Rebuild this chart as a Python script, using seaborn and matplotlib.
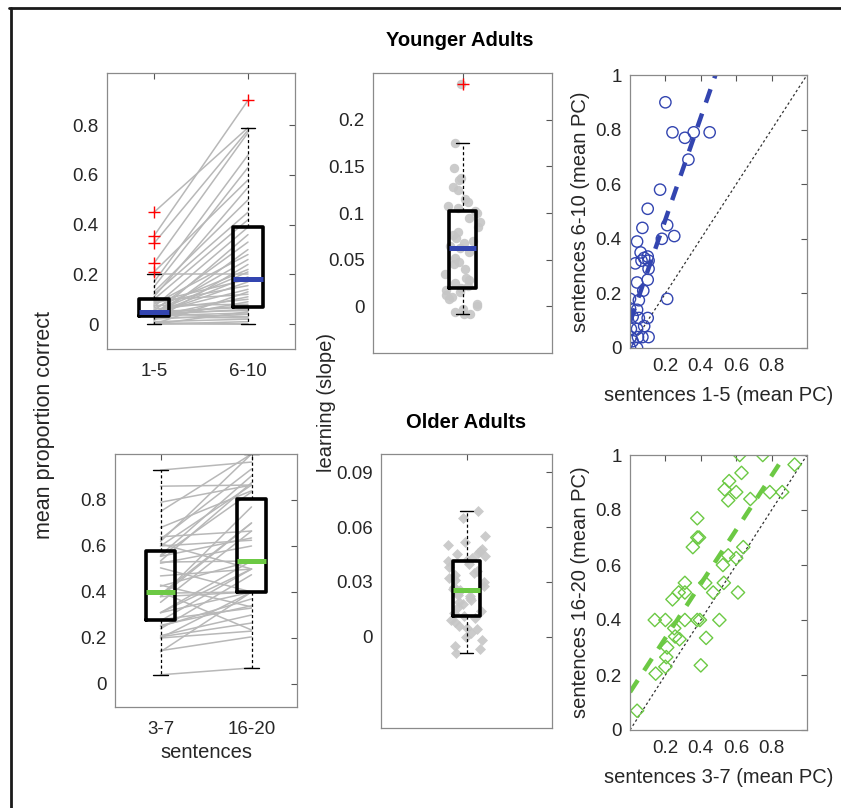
import numpy as np
import pandas as pd
import matplotlib
matplotlib.use("Agg")
import matplotlib.pyplot as plt
from matplotlib.lines import Line2D
from matplotlib.ticker import FuncFormatter
import seaborn as sns

# ---------------- data ----------------
# Younger adults, mean proportion correct, sentences 1-5 vs 6-10 (paired, left panel)
young_early = [0.45, 0.355, 0.325, 0.245, 0.21, 0.20, 0.17, 0.15, 0.13, 0.12, 0.11, 0.10,
               0.0, 0.0, 0.0, 0.0, 0.005, 0.01, 0.015, 0.02, 0.022, 0.025, 0.028, 0.032,
               0.034, 0.036, 0.038, 0.04, 0.041, 0.042, 0.043, 0.044, 0.045, 0.046, 0.048,
               0.05, 0.055, 0.06, 0.065, 0.07, 0.075, 0.08, 0.085, 0.09, 0.095]
young_late = [0.79, 0.90, 0.78, 0.77, 0.58, 0.20, 0.68, 0.63, 0.50, 0.45, 0.55, 0.42,
              0.0, 0.01, 0.05, 0.13, 0.0, 0.02, 0.24, 0.04, 0.09, 0.30, 0.025, 0.11,
              0.045, 0.36, 0.06, 0.17, 0.03, 0.19, 0.075, 0.26, 0.055, 0.14, 0.21,
              0.068, 0.33, 0.10, 0.22, 0.39, 0.08, 0.28, 0.155, 0.18, 0.12]
# Younger adults learning slopes
young_slope = [-0.008, -0.008, -0.006, -0.003, 0.0, 0.003, 0.008, 0.01, 0.012, 0.015, 0.018,
               0.02, 0.022, 0.025, 0.028, 0.03, 0.035, 0.04, 0.045, 0.048, 0.052, 0.058,
               0.063, 0.065, 0.068, 0.07, 0.073, 0.076, 0.08, 0.085, 0.09, 0.095, 0.1,
               0.102, 0.105, 0.108, 0.112, 0.115, 0.125, 0.128, 0.135, 0.138, 0.148, 0.175, 0.238]
# Younger adults scatter: sentences 1-5 (x) vs 6-10 (y)
young_x = [0.20, 0.24, 0.31, 0.36, 0.45, 0.33, 0.17, 0.10, 0.07, 0.21, 0.25, 0.18, 0.04, 0.06,
           0.03, 0.065, 0.10, 0.105, 0.105, 0.08, 0.04, 0.10, 0.075, 0.05, 0.0, 0.0, 0.04,
           0.015, 0.05, 0.10, 0.21, 0.005, 0.04, 0.08, 0.005, 0.045, 0.07, 0.105, 0.0, 0.04, 0.015]
young_y = [0.90, 0.79, 0.77, 0.79, 0.79, 0.69, 0.58, 0.51, 0.44, 0.45, 0.41, 0.40, 0.39, 0.35,
           0.31, 0.32, 0.335, 0.32, 0.29, 0.33, 0.24, 0.25, 0.21, 0.175, 0.18, 0.145, 0.14,
           0.115, 0.11, 0.11, 0.18, 0.07, 0.07, 0.08, 0.04, 0.04, 0.04, 0.04, 0.0, 0.0, 0.025]
# Older adults: sentences 3-7 (x) vs 16-20 (y)
old_x = [0.62, 0.75, 0.93, 0.63, 0.56, 0.535, 0.60, 0.79, 0.86, 0.555, 0.68, 0.38, 0.38, 0.39,
         0.355, 0.64, 0.555, 0.60, 0.525, 0.53, 0.425, 0.31, 0.275, 0.31, 0.24, 0.47, 0.61,
         0.14, 0.20, 0.31, 0.38, 0.505, 0.25, 0.255, 0.28, 0.43, 0.21, 0.205, 0.145, 0.20,
         0.40, 0.04, 0.395]
old_y = [1.0, 1.0, 0.965, 0.935, 0.905, 0.875, 0.865, 0.865, 0.865, 0.835, 0.84, 0.77, 0.70,
         0.70, 0.665, 0.665, 0.635, 0.625, 0.60, 0.535, 0.535, 0.535, 0.50, 0.50, 0.475, 0.50,
         0.50, 0.40, 0.40, 0.40, 0.40, 0.40, 0.37, 0.34, 0.33, 0.335, 0.30, 0.265, 0.205, 0.23,
         0.235, 0.07, 0.40]
# Older adults learning slopes
old_slope = [-0.009, -0.007, -0.005, -0.002, 0.0, 0.002, 0.004, 0.005, 0.006, 0.008, 0.009,
             0.01, 0.0115, 0.013, 0.014, 0.016, 0.018, 0.019, 0.02, 0.021, 0.022, 0.023, 0.024,
             0.025, 0.0256, 0.026, 0.027, 0.028, 0.03, 0.031, 0.032, 0.034, 0.035, 0.036, 0.038,
             0.04, 0.0415, 0.042, 0.043, 0.044, 0.045, 0.046, 0.047, 0.048, 0.05, 0.052, 0.055,
             0.065, 0.069]

young_blocks = ["1-5", "6-10"]
old_blocks = ["3-7", "16-20"]

BLUE = "#3345b0"
GREEN = "#6cc944"
GRAYLINE = "#b8b8b8"
DOT = "#c6c6c6"
TXT = "#262626"

# ---------------- figure ----------------
sns.set_theme(style="white")
plt.rcParams["font.family"] = ["Liberation Sans", "DejaVu Sans"]
plt.rcParams["text.color"] = TXT
plt.rcParams["axes.labelcolor"] = TXT

W, H = 841, 808
fig = plt.figure(figsize=(W / 100, H / 100), dpi=100)


def rect(x0, y0, x1, y1):
    return [x0 / W, 1 - y1 / H, (x1 - x0) / W, (y1 - y0) / H]


def style(ax):
    for s in ax.spines.values():
        s.set_visible(True)
        s.set_color("#8a8a8a")
        s.set_linewidth(0.9)
    ax.tick_params(direction="in", length=4, width=0.8, color="#555555", top=True,
                   right=True, labelsize=13.5, labelcolor=TXT, pad=6)
    ax.tick_params(axis="x", pad=10)
    ax.set_xlabel("")
    ax.set_ylabel("")


fmt = FuncFormatter(lambda v, p: f"{v:g}")

box_kws = dict(fill=False, color="black", whis=1.5,
               boxprops=dict(color="black", linewidth=2.6),
               whiskerprops=dict(color="black", linewidth=0.9, linestyle=(0, (2.5, 2))),
               capprops=dict(color="black", linewidth=1.0),
               flierprops=dict(marker="+", markeredgecolor="red", markerfacecolor="red",
                               markersize=9, markeredgewidth=1.0))


def paired_panel(ax, early, late, blocks, mcolor):
    n = len(early)
    df = pd.DataFrame({"subject": np.arange(n), blocks[0]: early, blocks[1]: late})
    long = df.melt(id_vars="subject", value_vars=blocks, var_name="block", value_name="pc")
    long["pos"] = long["block"].map({blocks[0]: 0, blocks[1]: 1})
    sns.lineplot(data=long, x="pos", y="pc", units="subject", estimator=None,
                 color=GRAYLINE, linewidth=1.1, legend=False, ax=ax, zorder=1)
    sns.boxplot(data=long, x="block", y="pc", order=blocks, width=0.31,
                medianprops=dict(color=mcolor, linewidth=3.6), ax=ax, **box_kws)
    ax.set_xlim(-0.5, 1.5)
    ax.set_xticks([0, 1])
    ax.set_xticklabels(blocks)
    ax.set_yticks([0, 0.2, 0.4, 0.6, 0.8])
    ax.yaxis.set_major_formatter(fmt)
    style(ax)


def slope_panel(ax, slopes, marker, size, jit, mcolor, seed):
    df = pd.DataFrame({"slope": slopes, "g": "all"})
    np.random.seed(seed)
    sns.stripplot(data=df, x="g", y="slope", jitter=jit, color=DOT, marker=marker, size=size,
                  linewidth=0, alpha=0.9, ax=ax, zorder=1)
    sns.boxplot(data=df, x="g", y="slope", width=0.155,
                medianprops=dict(color=mcolor, linewidth=3.6), ax=ax, **box_kws)
    ax.set_xlim(-0.5, 0.5)
    ax.set_xticks([0])
    ax.set_xticklabels([""])
    ax.yaxis.set_major_formatter(fmt)
    style(ax)


def scatter_panel(ax, x, y, marker, s, mcolor):
    ax.set_xlim(0, 1)
    ax.set_ylim(0, 1)
    ax.axline((0, 0), slope=1, color="#333333", linewidth=0.9, linestyle=(0, (2, 2)), zorder=1)
    sns.scatterplot(x=x, y=y, marker=marker, s=s, color=mcolor, facecolor="none",
                    edgecolor=mcolor, linewidth=1.0, ax=ax, zorder=2)
    sns.regplot(x=np.array(x), y=np.array(y), scatter=False, ci=None, truncate=False,
                color=mcolor, line_kws=dict(linewidth=3.2, linestyle=(0, (3.2, 2.6))), ax=ax)
    ax.set_xlim(0, 1)
    ax.set_ylim(0, 1)
    ax.set_xticks([0.2, 0.4, 0.6, 0.8])
    ax.set_yticks([0, 0.2, 0.4, 0.6, 0.8, 1.0])
    ax.xaxis.set_major_formatter(fmt)
    ax.yaxis.set_major_formatter(fmt)
    style(ax)
    ax.tick_params(axis="x", pad=7)


# --- Younger adults ---
ax1 = fig.add_axes(rect(107, 73, 295, 349))
paired_panel(ax1, young_early, young_late, young_blocks, BLUE)
ax1.set_ylim(-0.1, 1.01)

ax2 = fig.add_axes(rect(373, 73, 552, 353))
slope_panel(ax2, young_slope, "o", 6.8, 0.1, BLUE, 3)
ax2.set_ylim(-0.05, 0.25)
ax2.set_yticks([0, 0.05, 0.1, 0.15, 0.2])

ax3 = fig.add_axes(rect(630, 75, 807, 348))
scatter_panel(ax3, young_x, young_y, "o", 66, BLUE)
ax3.set_xlabel("sentences 1-5 (mean PC)", fontsize=14.5, labelpad=8)
ax3.set_ylabel("sentences 6-10 (mean PC)", fontsize=14.5, labelpad=4)

# --- Older adults ---
ax4 = fig.add_axes(rect(115, 454, 297, 707))
paired_panel(ax4, old_x, old_y, old_blocks, GREEN)
ax4.set_ylim(-0.1, 1.0)
ax4.set_xlabel("sentences", fontsize=14.5, labelpad=4)

ax5 = fig.add_axes(rect(381, 454, 552, 728))
slope_panel(ax5, old_slope, "D", 5.6, 0.11, GREEN, 5)
ax5.set_ylim(-0.05, 0.1)
ax5.set_yticks([0, 0.03, 0.06, 0.09])

ax6 = fig.add_axes(rect(630, 455, 807, 730))
scatter_panel(ax6, old_x, old_y, "D", 46, GREEN)
ax6.set_xlabel("sentences 3-7 (mean PC)", fontsize=14.5, labelpad=8)
ax6.set_ylabel("sentences 16-20 (mean PC)", fontsize=14.5, labelpad=4)

# --- shared texts ---
fig.text(460 / W, 1 - 40 / H, "Younger Adults", ha="center", va="center",
         fontsize=14.5, fontweight="bold", color="black")
fig.text(466 / W, 1 - 422 / H, "Older Adults", ha="center", va="center",
         fontsize=14.5, fontweight="bold", color="black")
fig.text(45 / W, 1 - 425 / H, "mean proportion correct", rotation=90, ha="center",
         va="center", fontsize=15.5, color=TXT)
fig.text(327 / W, 1 - 403 / H, "learning (slope)", rotation=90, ha="center",
         va="center", fontsize=14.5, color=TXT)

# figure frame (top and left edges)
fig.add_artist(Line2D([9 / W, 1], [1 - 8 / H, 1 - 8 / H], transform=fig.transFigure,
                      color="#1a1a1a", linewidth=2))
fig.add_artist(Line2D([11 / W, 11 / W], [1 - 8 / H, 0], transform=fig.transFigure,
                      color="#1a1a1a", linewidth=2))

fig.savefig("out.png", dpi=100, facecolor="white")
